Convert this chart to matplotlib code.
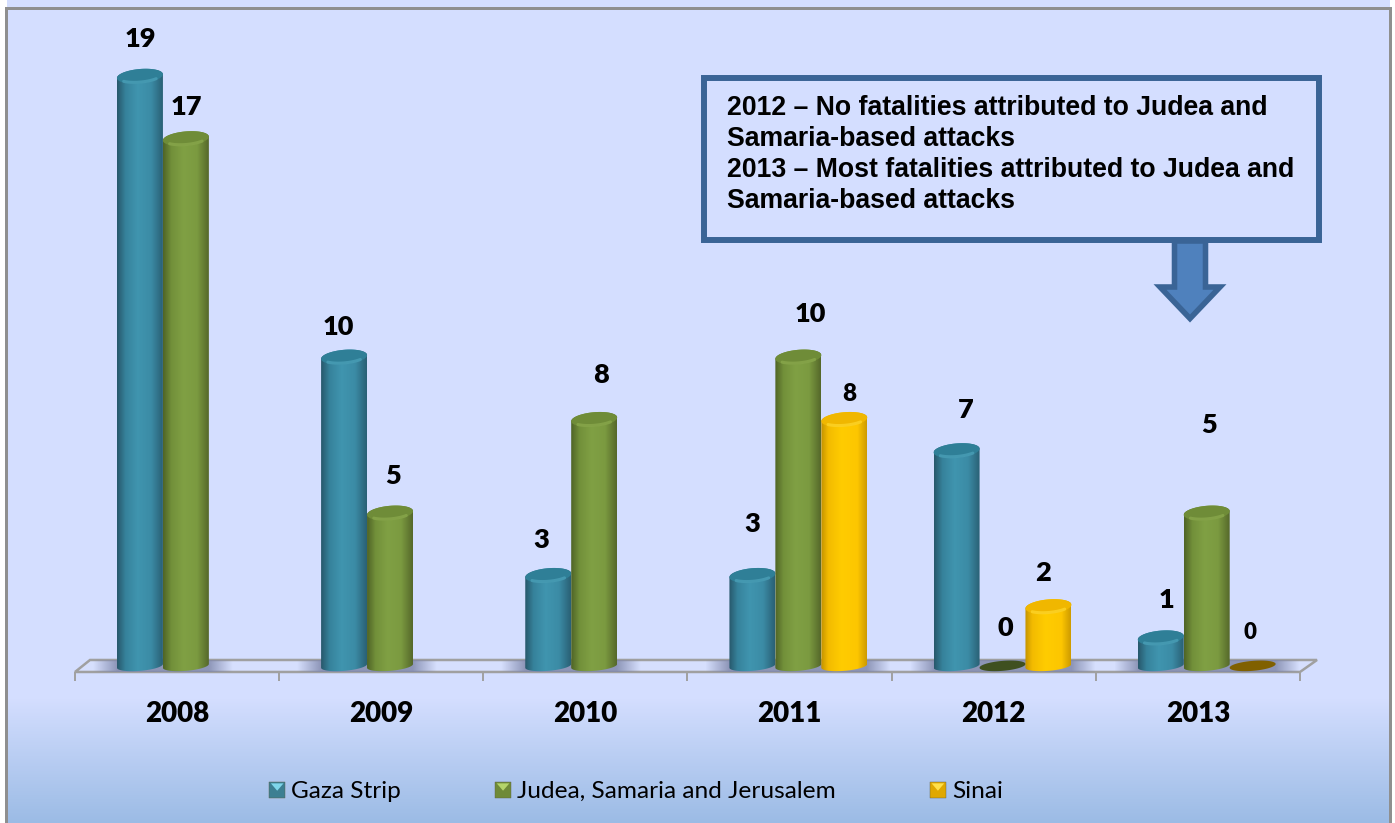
import numpy as np
import matplotlib
matplotlib.use('Agg')
import matplotlib.pyplot as plt
from matplotlib.colors import LinearSegmentedColormap, to_rgb
from matplotlib.legend_handler import HandlerBase
from matplotlib.patches import Patch, Polygon, Rectangle
from matplotlib.path import Path

# chart values
years = ['2008', '2009', '2010', '2011', '2012', '2013']
gaza = [19, 10, 3, 3, 7, 1]
judea = [17, 5, 8, 10, 0, 5]
sinai = [None, None, None, 8, 2, 0]
series_names = ['Gaza Strip', 'Judea, Samaria and Jerusalem', 'Sinai']
note_lines = [
    '2012 – No fatalities attributed to Judea and',
    'Samaria-based attacks',
    '2013 – Most fatalities attributed to Judea and',
    'Samaria-based attacks',
]

# label nudges in pixels from the bar top (the labels were placed by hand)
gaza_nudge = [(0, 37), (-6, 29.5), (-7, 35), (0, 51), (9, 41), (6, 38)]
judea_nudge = [(1, 32), (3, 36.5), (7, 44), (12, 42.5), (3, 40.5), (2, 87.5)]
sinai_nudge = [None, None, None, (5, 25), (-5, 34), (-3, 36.5)]

W, H = 1395, 823
BAR_W = 0.2253
CAP_B = 0.23
BASE_B = 0.16
BASE_Y = 0.1
TILT = 0.06
OFFSETS = [-0.182, 0.043, 0.268]
PX_X = 1225 / 6
PX_Y = 31.2

styles = [
    {'body': [(0, '#28596c'), (0.18, '#36829b'), (0.45, '#4095af'), (0.75, '#3b8ba5'), (1, '#2a6176')],
     'cap': '#2f7f97', 'rim': '#4ea3bb', 'flat': '#215a6c',
     'square': '#3c7f92', 'light': '#7fd6ea'},
    {'body': [(0, '#506527'), (0.18, '#72903a'), (0.45, '#80a044'), (0.75, '#7b9a40'), (1, '#56692b')],
     'cap': '#6f8c38', 'rim': '#8cab4e', 'flat': '#3f5020',
     'square': '#6f8a38', 'light': '#b4d46a'},
    {'body': [(0, '#c49300'), (0.15, '#f3bb00'), (0.45, '#ffcc00'), (0.8, '#fdc600'), (1, '#cf9c00')],
     'cap': '#f0b700', 'rim': '#ffd92e', 'flat': '#806000',
     'square': '#e0a800', 'light': '#ffe04a'},
]


def ellipse_xy(cx, cy, b, t):
    x = cx + BAR_W / 2 * np.cos(t)
    y = cy + b * np.sin(t) + TILT * np.cos(t)
    return x, y


def draw_cylinder(ax, cx, value, style, z):
    t = np.linspace(0, 2 * np.pi, 80)
    if value == 0:
        x, y = ellipse_xy(cx, BASE_Y, BASE_B, t)
        ax.add_patch(Polygon(np.c_[x, y], fc=style['flat'], ec='none', zorder=z, clip_on=False))
        return

    low = np.linspace(np.pi, 2 * np.pi, 40)
    high = np.linspace(0, np.pi, 40)
    x0, y0 = ellipse_xy(cx, BASE_Y, BASE_B, low)
    x1, y1 = ellipse_xy(cx, value, CAP_B, high)
    outline = np.r_[np.c_[x0, y0], np.c_[x1, y1]]

    cmap = LinearSegmentedColormap.from_list('body', style['body'])
    im = ax.imshow(np.linspace(0, 1, 64)[None, :], cmap=cmap, aspect='auto', zorder=z,
                   extent=(cx - BAR_W / 2, cx + BAR_W / 2, -1, value + 1))
    im.set_clip_box(ax.figure.bbox)
    im.set_clip_path(Path(np.r_[outline, outline[:1]]), ax.transData)

    # top of the cylinder, only a little darker than the body, light along the front edge
    x, y = ellipse_xy(cx, value, CAP_B, t)
    ax.add_patch(Polygon(np.c_[x, y], fc=style['cap'], ec='none', zorder=z + 0.1, clip_on=False))
    x, y = ellipse_xy(cx, value, CAP_B, np.linspace(1.25 * np.pi, 1.75 * np.pi, 30))
    ax.plot(x, y + 0.04, color=style['rim'], lw=2.2, alpha=0.7, zorder=z + 0.2,
            clip_on=False, solid_capstyle='round')


def draw_shadow(ax, x_left, x_right, floor):
    # soft shadow either side of the bars, cut to the floor shape
    reach = 24 / PX_X
    xs = np.linspace(x_left - reach, x_right + reach, 200)
    shade = np.zeros((1, 200, 4))
    shade[..., :3] = to_rgb('#8088ab')
    shade[..., 3] = np.interp(xs, [x_left - reach, x_left, x_right, x_right + reach], [0, 0.85, 0.85, 0])
    im = ax.imshow(shade, aspect='auto', zorder=1.5, extent=(xs[0], xs[-1], -0.2, 0.4))
    im.set_clip_box(ax.figure.bbox)
    im.set_clip_path(floor, ax.transData)


class BevelHandler(HandlerBase):
    def __init__(self, light):
        super().__init__()
        self.light = light

    def create_artists(self, legend, orig_handle, xdescent, ydescent, width, height, fontsize, trans):
        side = 11.5
        y0 = (height - side) / 2 - ydescent - 0.5
        base = Rectangle((0, y0), side, side, fc=orig_handle.get_facecolor(),
                         ec='#5f5f40', lw=0.3, transform=trans)
        tri = Polygon([(1.2, y0 + side - 1.2), (side - 1.2, y0 + side - 1.2), (side / 2, y0 + 5)],
                      fc=self.light, ec='none', transform=trans)
        return [base, tri]


fig = plt.figure(figsize=(W / 100, H / 100), dpi=100, facecolor='white')

# background, frame and note are laid out in pixels on their own axes
bg = fig.add_axes([0, 0, 1, 1], zorder=0)
bg.axis('off')

rows = np.arange(H)
top_rgb = np.array(to_rgb('#d4deff'))
bot_rgb = np.array(to_rgb('#9bbbe5'))
mix = np.interp(rows, [698, 823], [0, 1])[:, None]
grad = (top_rgb * (1 - mix) + bot_rgb * mix)[:, None, :]
bg.imshow(grad, extent=(7, 1390, H, 0), aspect='auto', zorder=0)
bg.set_xlim(0, W)
bg.set_ylim(H, 0)
bg.add_patch(Rectangle((5, 7), 3, H, fc='#8f8f8f', ec='none', zorder=1))
bg.add_patch(Rectangle((5, 7), 1387, 2.5, fc='#8f8f8f', ec='none', zorder=1))
bg.add_patch(Rectangle((1389, 7), 3, H, fc='#8f8f8f', ec='none', zorder=1))

bg.add_patch(Rectangle((704, 78), 615, 162, fc='#d4deff', ec='#3a6496', lw=4.3, joinstyle='miter', zorder=2))
bg.add_patch(Polygon([(1174.5, 241), (1205.5, 241), (1205.5, 287), (1220, 287), (1190, 318.5), (1160, 287), (1174.5, 287)],
                     fc='#4f81bd', ec='#3a6496', lw=4, joinstyle='miter', zorder=3))
for i, line in enumerate(note_lines):
    bg.text(727, 108 + i * 31, line, family='Liberation Sans', fontweight='bold', fontsize=19.2,
            color='black', va='center', ha='left', zorder=4)

# main chart, 204 px per year and 31.2 px per fatality
ax = fig.add_axes([75 / W, 1 - 672.1 / H, 1225 / W, 20.1 * PX_Y / H], zorder=1)
ax.patch.set_alpha(0)

floor_pts = np.array([(-0.5, -3 / PX_Y), (5.5, -3 / PX_Y), (5.5 + 17 / PX_X, 9 / PX_Y),
                      (-0.5 + 15 / PX_X, 9 / PX_Y), (-0.5, -3 / PX_Y)])
floor_path = Path(floor_pts)
ax.add_patch(Polygon(floor_pts, fc='#d6dffd', ec='#a0a0a0', lw=1.8, zorder=1, clip_on=False))

all_series = [gaza, judea, sinai]
all_nudges = [gaza_nudge, judea_nudge, sinai_nudge]

for i in range(len(years)):
    last = max(k for k in range(3) if all_series[k][i] is not None)
    draw_shadow(ax, i + OFFSETS[0] - BAR_W / 2, i + OFFSETS[last] + BAR_W / 2, floor_path)

for i in range(len(years)):
    for k, series in enumerate(all_series):
        value = series[i]
        if value is None:
            continue
        cx = i + OFFSETS[k]
        draw_cylinder(ax, cx, value, styles[k], 3 + k)
        dx, dy = all_nudges[k][i]
        # the labels on the Sinai bars in 2011 and 2013 are set smaller
        size = 19.5
        if k == 2 and i == 3:
            size = 17.5
        if k == 2 and i == 5:
            size = 16
        ax.annotate(str(value), (cx, value), xytext=(dx, dy), textcoords='offset pixels',
                    family='Lato', fontweight='heavy', fontsize=size,
                    ha='center', va='center', color='black', zorder=10, annotation_clip=False)

ax.set_xlim(-0.5, 5.5)
ax.set_ylim(-0.1, 20)
ax.set_yticks([])
for name in ['top', 'left', 'right', 'bottom']:
    ax.spines[name].set_visible(False)
ax.set_xticks(np.arange(len(years)))
ax.set_xticklabels(years, family='Lato', fontweight='heavy', fontsize=20)
ax.set_xticks(np.arange(len(years) + 1) - 0.5, minor=True)
ax.tick_params(axis='x', which='major', length=0, pad=21)
ax.tick_params(axis='x', which='minor', length=6.5, width=1.4, color='#a0a0a0')

handles = [Patch(facecolor=styles[k]['square']) for k in range(3)]
fig.legend(handles, series_names, loc='center', bbox_to_anchor=(636 / W, 1 - 791 / H),
           ncol=3, frameon=False, prop={'family': 'Lato', 'size': 17.6}, columnspacing=3.85,
           handlelength=0.65, handletextpad=0.25,
           handler_map={h: BevelHandler(styles[k]['light']) for k, h in enumerate(handles)})

fig.savefig('out.png', dpi=100)
